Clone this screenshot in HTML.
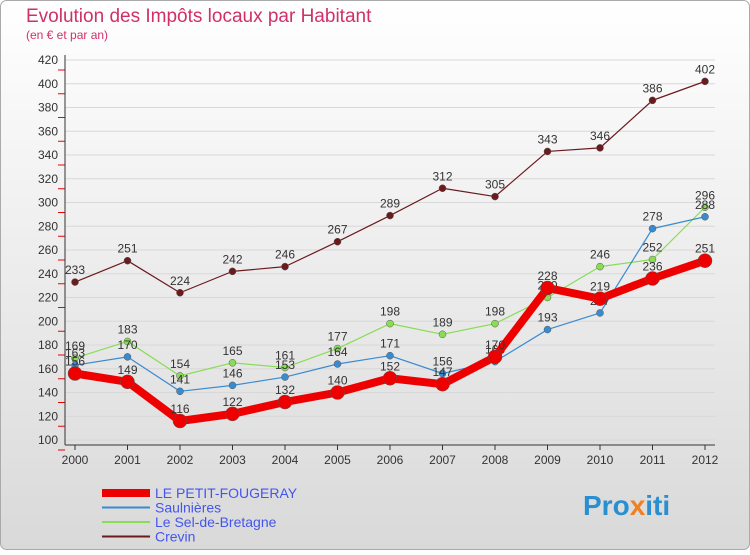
<!DOCTYPE html>
<html><head><meta charset="utf-8"><style>
body{margin:0;width:750px;height:550px;overflow:hidden;font-family:"Liberation Sans",sans-serif;}
</style></head><body>
<svg width="750" height="550" xmlns="http://www.w3.org/2000/svg">
<defs><linearGradient id="bg" x1="0" y1="0" x2="0" y2="1"><stop offset="0" stop-color="#ffffff"/><stop offset="1" stop-color="#d9d9d9"/></linearGradient></defs>
<rect x="0.5" y="0.5" width="749" height="549" rx="6" fill="url(#bg)" stroke="#aaa"/>
<text x="26" y="22" font-size="19" fill="#d0306a">Evolution des Impôts locaux par Habitant</text>
<text x="26" y="39" font-size="12" fill="#d0306a">(en € et par an)</text>
<g id="axes"></g><g id="series"></g><g id="legend"></g>
<text x="583" y="515" font-size="28" font-weight="bold" fill="#2a8fd0">Pro<tspan fill="#f08020">x</tspan>iti</text>
</svg>
<script>
const years=[2000,2001,2002,2003,2004,2005,2006,2007,2008,2009,2010,2011,2012];
const ticks=[100,120,140,160,180,200,220,240,260,280,300,320,340,360,380,400,420];
const petit=[156,149,116,122,132,140,152,147,170,228,219,236,251];
const saul=[163,170,141,146,153,164,171,156,166,193,207,278,288];
const sel=[169,183,154,165,161,177,198,189,198,220,246,252,296];
const crevin=[233,251,224,242,246,267,289,312,305,343,346,386,402];
const NS="http://www.w3.org/2000/svg";
const X=i=>75+i*52.5, Y=v=>440-(v-100)*380/320;
function mk(t,a,p){const e=document.createElementNS(NS,t);for(const k in a)e.setAttribute(k,a[k]);(p||document.getElementById('axes')).appendChild(e);return e;}
const ax=document.getElementById('axes');
ticks.forEach(t=>{const y=Y(t);
 const g=mk('line',{x1:65,x2:715,y1:y,y2:y,stroke:'#d8d8d8','stroke-width':1},ax);
 
 const tx=mk('text',{x:58,y:y+4,'text-anchor':'end','font-size':12,fill:'#333'},ax);tx.textContent=t;
 
 mk('line',{x1:58,x2:65,y1:y+10,y2:y+10,stroke:'#e00','stroke-width':1},ax);});
let a=mk('line',{x1:65,x2:65,y1:55,y2:445,stroke:'#333'},ax);

a=mk('line',{x1:65,x2:715,y1:445,y2:445,stroke:'#333'},ax);

years.forEach((yr,i)=>{const tx=mk('text',{x:X(i),y:464,'text-anchor':'middle','font-size':12,fill:'#333'},ax);tx.textContent=yr;
 
 mk('line',{x1:X(i),x2:X(i),y1:445,y2:450,stroke:'#333'},ax);});
const S=document.getElementById('series');
function series(d,col,w,r,name){
 const pl=mk('polyline',{points:d.map((v,i)=>X(i)+','+Y(v)).join(' '),fill:'none',stroke:col,'stroke-width':w,'stroke-linejoin':'round'},S);
 
 d.forEach((v,i)=>{const c=mk('circle',{cx:X(i),cy:Y(v),r:r,fill:col,stroke:'#555','stroke-width':0.5},S);
  
  const t=mk('text',{x:X(i),y:Y(v)-8,'text-anchor':'middle','font-size':12,fill:'#333'},S);t.textContent=v;
  });
}
series(crevin,'#6b1a1e',1.2,3.5,'crevin');
series(sel,'#88dd55',1.2,3.5,'le-sel');
series(saul,'#3a8ad0',1.2,3.5,'saulnieres');
series(petit,'#ee0000',8,7,'le-petit-fougeray');
const L=document.getElementById('legend');
[['LE PETIT-FOUGERAY','#ee0000',8],['Saulnières','#3a8ad0',2],['Le Sel-de-Bretagne','#88dd55',2],['Crevin','#6b1a1e',2]].forEach((e,i)=>{
 const y=493+i*14.5;
 const l=mk('line',{x1:102,x2:150,y1:y,y2:y,stroke:e[1],'stroke-width':e[2]},L);
 
 const t=mk('text',{x:155,y:y+5,'font-size':14,fill:'#4455ee'},L);t.textContent=e[0];
 });
</script>
</body></html>
